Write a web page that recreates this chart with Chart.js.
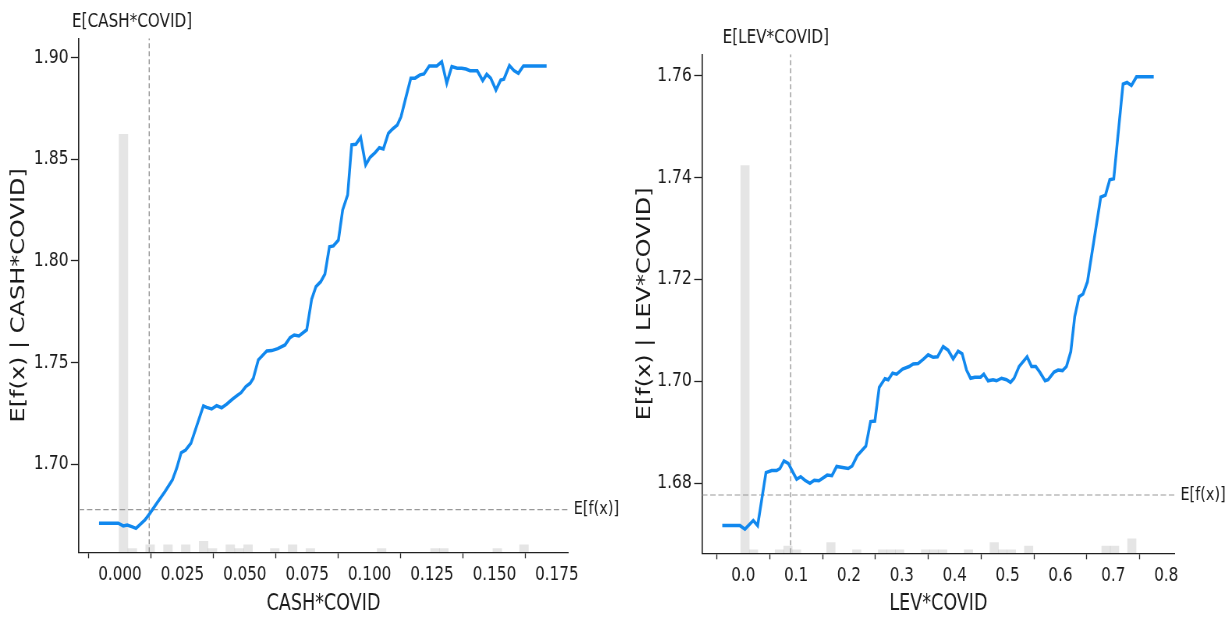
<!DOCTYPE html>
<html lang="en">
<head>
<meta charset="utf-8">
<title>Partial dependence — CASH*COVID / LEV*COVID</title>
<script src="https://cdn.jsdelivr.net/npm/chart.js@4.4.1/dist/chart.umd.min.js"></script>
<style>
  html, body { margin: 0; padding: 0; background: #fff; overflow: hidden; }
  #figure { position: relative; width: 1230px; height: 618px; overflow: hidden; }
  /* the source figure is squeezed horizontally, so each panel is drawn wide and scaled in x */
  .panel { position: absolute; top: 0; width: 810px; height: 618px; transform: scaleX(0.78); transform-origin: 0 0; }
  #panel-cash { left: 0; }
  #panel-lev  { left: 615px; }
</style>
</head>
<body>
<div id="figure">
  <div class="panel" id="panel-cash"><canvas id="chart-cash" width="810" height="618"></canvas></div>
  <div class="panel" id="panel-lev"><canvas id="chart-lev" width="810" height="618"></canvas></div>
</div>
<script>
'use strict';

/* ============================================================
   Partial dependence of E[f(x)] on CASH*COVID and LEV*COVID
   ============================================================ */

// E[f(x)] (model base value, same for both panels)
const BASE_VALUE = 1.6777;

// ---- CASH*COVID ----
const CASH_X = [-0.0084, -0.0007, 0.0013, 0.0029, 0.0047, 0.0064, 0.0100, 0.0120, 0.0147, 0.0180,
  0.0210, 0.0227, 0.0245, 0.0263, 0.0284, 0.0334, 0.0347, 0.0367, 0.0387, 0.0407,
  0.0427, 0.0450, 0.0472, 0.0485, 0.0504, 0.0521, 0.0534, 0.0554, 0.0588, 0.0608,
  0.0632, 0.0661, 0.0681, 0.0698, 0.0717, 0.0748, 0.0768, 0.0785, 0.0804, 0.0821,
  0.0839, 0.0855, 0.0875, 0.0892, 0.0912, 0.0928, 0.0945, 0.0964, 0.0984, 0.1002,
  0.1022, 0.1039, 0.1055, 0.1075, 0.1092, 0.1111, 0.1126, 0.1146, 0.1165, 0.1182,
  0.1202, 0.1218, 0.1239, 0.1269, 0.1289, 0.1309, 0.1329, 0.1351, 0.1369, 0.1386,
  0.1402, 0.1431, 0.1453, 0.1469, 0.1485, 0.1506, 0.1525, 0.1538, 0.1560, 0.1578,
  0.1596, 0.1616, 0.1709];
const CASH_Y = [1.6710, 1.6710, 1.6697, 1.6701, 1.6693, 1.6685, 1.6726, 1.6759, 1.6808, 1.6865,
  1.6923, 1.6980, 1.7057, 1.7070, 1.7103, 1.7287, 1.7280, 1.7272, 1.7288, 1.7278,
  1.7295, 1.7320, 1.7341, 1.7352, 1.7382, 1.7398, 1.7423, 1.7513, 1.7557, 1.7559,
  1.7569, 1.7587, 1.7623, 1.7636, 1.7631, 1.7661, 1.7813, 1.7874, 1.7898, 1.7936,
  1.8070, 1.8074, 1.8103, 1.8251, 1.8325, 1.8571, 1.8574, 1.8608, 1.8472, 1.8510,
  1.8533, 1.8557, 1.8551, 1.8628, 1.8649, 1.8669, 1.8710, 1.8808, 1.8899, 1.8899,
  1.8915, 1.8920, 1.8959, 1.8959, 1.8980, 1.8874, 1.8956, 1.8948, 1.8948, 1.8944,
  1.8936, 1.8936, 1.8887, 1.8918, 1.8899, 1.8841, 1.8890, 1.8894, 1.8961, 1.8936,
  1.8923, 1.8959, 1.8959];
const CASH_MEAN = 0.0117;
// histogram: 50 bins
const CASH_HIST_START = -0.0004;
const CASH_HIST_BIN   = 0.003566;
const CASH_HIST = [113, 1, 0, 2, 0, 2, 0, 2, 0, 3, 1, 0, 2, 1, 2, 0, 0, 1, 0, 2,
  0, 1, 0, 0, 0, 0, 0, 0, 0, 1, 0, 0, 0, 0, 0, 1, 1, 0, 0, 0,
  0, 0, 1, 0, 0, 2, 0, 0, 0, 0];
const CASH_X_TICKS = [0, 0.025, 0.05, 0.075, 0.1, 0.125, 0.15, 0.175];
const CASH_Y_TICKS = [1.70, 1.75, 1.80, 1.85, 1.90];

// ---- LEV*COVID ----
const LEV_X = [-0.0397, -0.0062, 0.0032, 0.0189, 0.0272, 0.0429, 0.0537, 0.0631, 0.0694, 0.0769,
  0.0851, 0.1009, 0.1085, 0.1166, 0.1261, 0.1342, 0.1431, 0.1588, 0.1677, 0.1766,
  0.1985, 0.2060, 0.2155, 0.2319, 0.2408, 0.2490, 0.2571, 0.2679, 0.2741, 0.2824,
  0.2900, 0.3013, 0.3138, 0.3214, 0.3308, 0.3403, 0.3497, 0.3592, 0.3675, 0.3781,
  0.3875, 0.3970, 0.4064, 0.4140, 0.4223, 0.4299, 0.4380, 0.4488, 0.4550, 0.4631,
  0.4726, 0.4790, 0.4885, 0.4979, 0.5055, 0.5123, 0.5217, 0.5369, 0.5452, 0.5533,
  0.5609, 0.5709, 0.5766, 0.5879, 0.5955, 0.6038, 0.6113, 0.6195, 0.6270, 0.6352,
  0.6427, 0.6510, 0.6762, 0.6851, 0.6932, 0.7008, 0.7183, 0.7259, 0.7342, 0.7437,
  0.7764];
const LEV_Y = [1.6717, 1.6717, 1.6710, 1.6727, 1.6717, 1.6821, 1.6825, 1.6825, 1.6829, 1.6844,
  1.6839, 1.6808, 1.6813, 1.6806, 1.6800, 1.6806, 1.6805, 1.6816, 1.6815, 1.6833,
  1.6829, 1.6834, 1.6854, 1.6873, 1.6921, 1.6922, 1.6988, 1.7005, 1.7003, 1.7016,
  1.7014, 1.7024, 1.7029, 1.7034, 1.7035, 1.7043, 1.7052, 1.7047, 1.7048, 1.7068,
  1.7061, 1.7044, 1.7059, 1.7054, 1.7022, 1.7006, 1.7008, 1.7008, 1.7014, 1.7001,
  1.7003, 1.7001, 1.7006, 1.7003, 1.6998, 1.7006, 1.7029, 1.7048, 1.7029, 1.7029,
  1.7018, 1.7001, 1.7003, 1.7018, 1.7022, 1.7021, 1.7029, 1.7058, 1.7127, 1.7166,
  1.7171, 1.7195, 1.7361, 1.7365, 1.7395, 1.7397, 1.7583, 1.7586, 1.7580, 1.7597,
  1.7597];
const LEV_MEAN = 0.0896;
const LEV_HIST_START = -0.0049;
const LEV_HIST_BIN   = 0.01626;
const LEV_HIST = [108, 1, 0, 0, 1, 2, 1, 0, 0, 0, 3, 0, 0, 1, 0, 0, 1, 1, 1, 0,
  0, 1, 1, 1, 0, 0, 1, 0, 0, 3, 1, 1, 0, 2, 0, 0, 0, 0, 0, 0,
  0, 0, 2, 2, 0, 4, 0, 0, 0, 0];
const LEV_X_TICKS = [0, 0.1, 0.2, 0.3, 0.4, 0.5, 0.6, 0.7, 0.8];
const LEV_Y_TICKS = [1.68, 1.70, 1.72, 1.74, 1.76];

// Styles
const FONT  = '"DejaVu Sans", sans-serif';
const INK   = '#1a1a1a';
const AXIS  = '#222222';
const BLUE  = '#1188ee';
const DASH  = '#999999';
const HIST  = 'rgba(0, 0, 0, 0.1)';

/* ---------- text annotations: E[f(x)] and E[feature] ---------- */
const refLabels = {
  id: 'refLabels',
  afterDraw(chart, args, opts) {
    const { ctx, chartArea, scales } = chart;
    ctx.save();
    ctx.font = `18.5px ${FONT}`;
    ctx.fillStyle = INK;
    ctx.textBaseline = 'middle';
    ctx.textAlign = 'left';
    ctx.fillText('E[f(x)]', chartArea.right + 7, scales.y.getPixelForValue(opts.base));
    ctx.font = `19.5px ${FONT}`;
    ctx.textAlign = 'center';
    ctx.fillText(opts.topText, scales.x.getPixelForValue(opts.mean) + opts.topShift, chartArea.top - 16);
    ctx.restore();
  },
};

/* ---------- build one panel ---------- */
function buildPanel(canvasId, spec) {
  const curve = spec.xs.map((x, i) => ({ x, y: spec.ys[i] }));
  const bins  = spec.hist.map((c, i) => ({ x: spec.histStart + (i + 0.5) * spec.histBin, y: c }));
  const histTotal = spec.hist.reduce((a, b) => a + b, 0);

  const tickGrid = len => ({
    drawOnChartArea: false, drawTicks: true, tickLength: len, tickWidth: 1.3, tickColor: AXIS,
  });

  return new Chart(document.getElementById(canvasId), {
    type: 'line',
    data: {
      datasets: [
        { type: 'line', data: curve, borderColor: BLUE, borderWidth: 3.5, pointRadius: 0,
          tension: 0, order: 0 },
        { type: 'line', data: [{ x: spec.mean, y: spec.yMin }, { x: spec.mean, y: spec.yMax }],
          borderColor: DASH, borderWidth: 1.4, borderDash: [5, 3], pointRadius: 0, order: 1 },
        { type: 'line', data: [{ x: spec.xMin, y: BASE_VALUE }, { x: spec.xMax, y: BASE_VALUE }],
          borderColor: DASH, borderWidth: 1.1, borderDash: [7, 3.5], pointRadius: 0, order: 1 },
        { type: 'bar', data: bins, yAxisID: 'yh', backgroundColor: HIST, borderWidth: 0,
          barPercentage: 1, categoryPercentage: 1, order: 2 },
      ],
    },
    options: {
      responsive: false,
      animation: false,
      events: [],
      layout: { padding: { left: 0, right: spec.rightPad, top: spec.topPad, bottom: 0 } },
      plugins: {
        legend: { display: false },
        tooltip: { enabled: false },
        refLabels: { base: BASE_VALUE, mean: spec.mean, topText: spec.topText, topShift: spec.topShift },
      },
      scales: {
        x: {
          type: 'linear', min: spec.xMin, max: spec.xMax, offset: false,
          afterBuildTicks: s => { s.ticks = spec.xTicks.map(v => ({ value: v })); },
          afterFit: s => { s.height = spec.bottomBand; },
          border: { display: true, color: AXIS, width: 1.3 },
          grid: tickGrid(6),
          ticks: { color: INK, font: { family: FONT, size: 19.5 }, padding: 5, maxRotation: 0,
            autoSkip: false, callback: v => v.toFixed(spec.xDigits) },
          title: { display: true, text: spec.xLabel, color: INK,
            font: { family: FONT, size: 22.5 }, padding: { top: 0, bottom: 0 } },
        },
        y: {
          type: 'linear', min: spec.yMin, max: spec.yMax,
          afterBuildTicks: s => { s.ticks = spec.yTicks.map(v => ({ value: v })); },
          afterFit: s => { s.width = spec.leftBand; },
          border: { display: true, color: AXIS, width: 1.6 },
          grid: tickGrid(10),
          ticks: { color: INK, font: { family: FONT, size: 20 }, padding: 3,
            autoSkip: false, callback: v => v.toFixed(2) },
          title: { display: true, text: spec.yLabel, color: INK,
            font: { family: FONT, size: 24 }, padding: { top: spec.yTitlePad, bottom: 0 } },
        },
        yh: { display: false, min: 0, max: histTotal },
      },
    },
    plugins: [refLabels],
  });
}

/* ---------- Start ---------- */
// canvases are 810 wide (unscaled); right padding keeps the plot area where the reference has it
buildPanel('chart-cash', {
  xs: CASH_X, ys: CASH_Y, mean: CASH_MEAN,
  hist: CASH_HIST, histStart: CASH_HIST_START, histBin: CASH_HIST_BIN,
  xTicks: CASH_X_TICKS, yTicks: CASH_Y_TICKS, xDigits: 3,
  xMin: -0.01654, xMax: 0.1796, yMin: 1.6567, yMax: 1.9095,
  xLabel: 'CASH*COVID', yLabel: 'E[f(x) | CASH*COVID]', topText: 'E[CASH*COVID]',
  leftBand: 100.9, rightPad: 81.4, topPad: 38.3, bottomBand: 65.7, yTitlePad: 10.6, topShift: -22,
});

buildPanel('chart-lev', {
  xs: LEV_X, ys: LEV_Y, mean: LEV_MEAN,
  hist: LEV_HIST, histStart: LEV_HIST_START, histBin: LEV_HIST_BIN,
  xTicks: LEV_X_TICKS, yTicks: LEV_Y_TICKS, xDigits: 1,
  xMin: -0.0781, xMax: 0.8166, yMin: 1.66627, yMax: 1.76412,
  xLabel: 'LEV*COVID', yLabel: 'E[f(x) | LEV*COVID]', topText: 'E[LEV*COVID]',
  leftBand: 111.5, rightPad: 92.1, topPad: 54.3, bottomBand: 64.7, yTitlePad: 24.7, topShift: -19,
});
</script>
</body>
</html>
